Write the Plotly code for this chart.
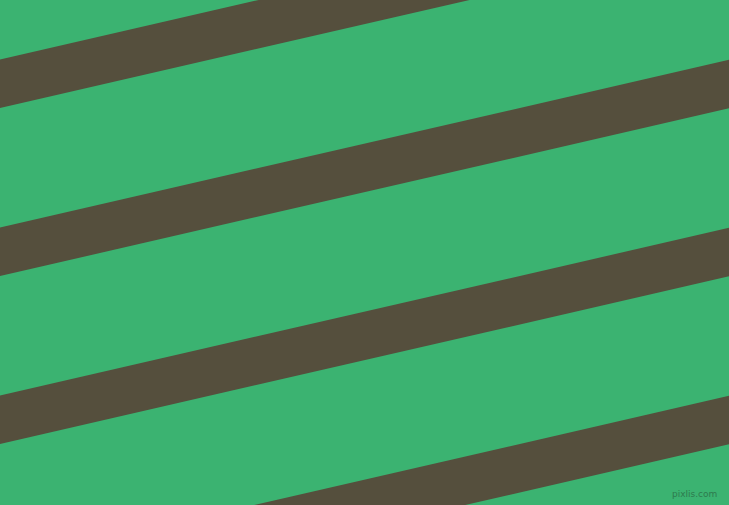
import numpy as np
import plotly.graph_objects as go

# 画布尺寸
W, H = 729, 505

# 条纹：左边缘(x=0)处的上沿 y 值，斜率，厚度
stripe_tops = [-108.5, 59.5, 227.5, 395.5, 563.5]
slope = -0.23
thickness = 48.5

bg_color = '#3BB371'
stripe_color = '#554F3D'


def draw_stripes():
    fig = go.Figure()
    for y0 in stripe_tops:
        xs = [0, W, W, 0, 0]
        ys = [y0, y0 + slope * W, y0 + slope * W + thickness, y0 + thickness, y0]
        fig.add_trace(go.Scatter(
            x=xs, y=ys, mode='lines', fill='toself',
            fillcolor=stripe_color, line=dict(width=0, color=stripe_color),
            hoverinfo='skip', showlegend=False
        ))
    # 水印
    fig.add_annotation(
        x=719, y=494, xref='x', yref='y', text='pixlis.com', showarrow=False,
        xanchor='right', yanchor='middle',
        font=dict(family='DejaVu Sans', size=9, color='#2E7A4E')
    )
    fig.update_layout(
        width=W, height=H,
        margin=dict(l=0, r=0, t=0, b=0),
        paper_bgcolor=bg_color, plot_bgcolor=bg_color,
        xaxis=dict(range=[0, W], visible=False, fixedrange=True),
        yaxis=dict(range=[H, 0], visible=False, fixedrange=True),
    )
    return fig


def main():
    fig = draw_stripes()
    # 去掉页面默认边距，图正好铺满窗口
    fig.write_html("out.html", config={'displayModeBar': False},
                   post_script="document.body.style.margin='0';"
                               "document.body.style.overflow='hidden';")


if __name__ == '__main__':
    main()
